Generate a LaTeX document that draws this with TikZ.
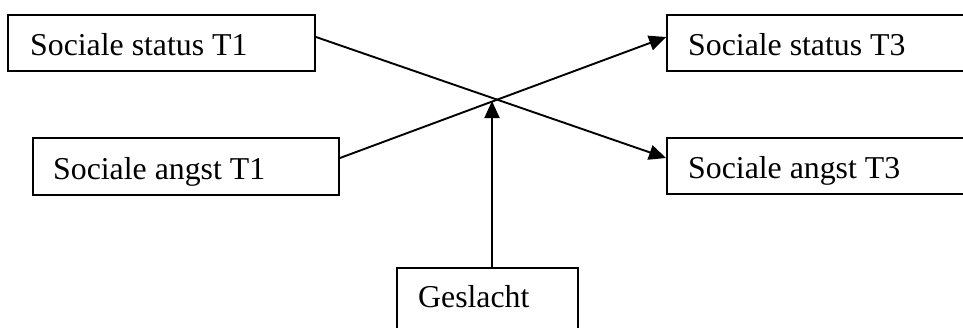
\documentclass[tikz,border=0pt]{standalone}
\usepackage{fontspec}
\setmainfont{Liberation Serif}
\usetikzlibrary{arrows.meta}
\begin{document}
\begin{tikzpicture}[x=1pt,y=-1pt,
  box/.style={draw=black, line width=1.9pt, rectangle, inner sep=0pt},
  lbl/.style={inner sep=0pt, anchor=base west, font=\fontsize{31.8}{36}\selectfont},
  conn/.style={line width=1.9pt, -{Triangle[length=17pt,width=15pt]}}]
\useasboundingbox (0,0) rectangle (963,327);
\clip (0,0) rectangle (963,327);
% boxes
\node[box, minimum width=307pt, minimum height=56pt] (st1) at (161.5,43) {};
\node[box, minimum width=340pt, minimum height=56pt] (st3) at (837,43) {};
\node[box, minimum width=306pt, minimum height=57pt] (at1) at (186,166.5) {};
\node[box, minimum width=340pt, minimum height=56pt] (at3) at (837,166) {};
\node[box, minimum width=181pt, minimum height=80pt] (ges) at (487.5,308) {};
% labels
\node[lbl] (st1t) at (30,55) {Sociale status T1};
\node[lbl] (st3t) at (688,55) {Sociale status T3};
\node[lbl] (at1t) at (53,179) {Sociale angst T1};
\node[lbl] (at3t) at (688,178) {Sociale angst T3};
\node[lbl] (gest) at (418,307) {Geslacht};
% connectors
\coordinate (cross) at (492,101);
\draw[conn] ([yshift=6pt]st1.east) -- ([yshift=8pt]at3.west);
\draw[conn] ([yshift=8.5pt]at1.east) -- ([yshift=6pt]st3.west);
\draw[conn] ([xshift=4.5pt]ges.north) -- (cross);
\end{tikzpicture}
\end{document}
